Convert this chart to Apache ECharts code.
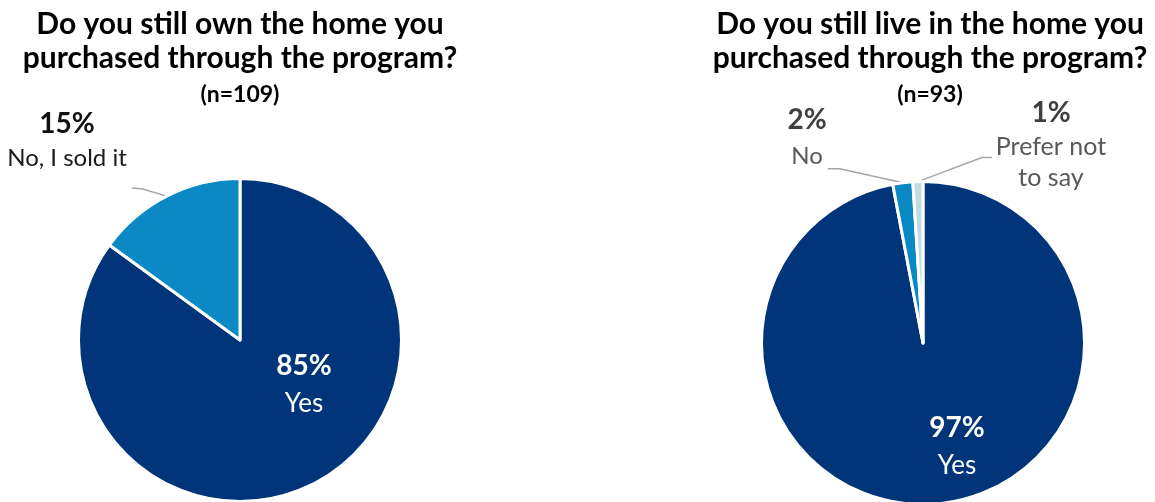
<!DOCTYPE html>
<html>
<head>
<meta charset="utf-8">
<script src="https://cdn.jsdelivr.net/npm/echarts@6/dist/echarts.min.js"></script>
<style>
html, body { margin: 0; padding: 0; background: #ffffff; }
#chart { width: 1155px; height: 502px; }
</style>
</head>
<body>
<div id="chart"></div>
<script>
// ---- data ----
const leftTitleLines = ['Do you still own the home you', 'purchased through the program?'];
const leftSample = '(n=109)';
const leftCategories = ['Yes', 'No, I sold it'];
const leftValues = [85, 15];

const rightTitleLines = ['Do you still live in the home you', 'purchased through the program?'];
const rightSample = '(n=93)';
const rightCategories = ['Yes', 'No', 'Prefer not\nto say'];
const rightValues = [97, 2, 1];

// ---- styling ----
const FONT = 'Lato, "Noto Sans", sans-serif';
const NAVY = '#00357A', MID = '#0A89C4', LIGHT = '#BFDCE2';
const leftColors = [NAVY, MID];
const rightColors = [NAVY, MID, LIGHT];

// label placement (text annotations only)
const leftSpots = [
  { x: 304, y: 385 },
  { x: 67, y: 141, line: [[-24, -7], [-35, -8]] }
];
const rightSpots = [
  { x: 957, y: 447 },
  { x: 807, y: 138, line: [[-63, -14], [-75, -14]] },
  { x: 1051, y: 144, line: [[64, -24], [74, -24]] }
];

function insideLabel() {
  return {
    show: true, position: 'inside',
    formatter: '{p|{c}%}\n{n|{b}}',
    rich: {
      p: { fontFamily: FONT, fontSize: 28, fontWeight: 'bold', color: '#ffffff', lineHeight: 38 },
      n: { fontFamily: FONT, fontSize: 26, color: '#ffffff', lineHeight: 38 }
    }
  };
}
function outsideLabel(pctColor, nameColor, pLH, nLH, nSize) {
  return {
    show: true, position: 'outside',
    formatter: '{p|{c}%}\n{n|{b}}',
    rich: {
      p: { fontFamily: FONT, fontSize: 28, fontWeight: 'bold', color: pctColor, lineHeight: pLH },
      n: { fontFamily: FONT, fontSize: nSize, color: nameColor, lineHeight: nLH }
    }
  };
}
const guide = { show: true, length: 10, length2: 10, smooth: false, lineStyle: { color: '#A6A6A6', width: 1.5 } };
const noGuide = { show: false };

function buildData(cats, vals, colors, labels, lines) {
  return cats.map((c, i) => ({
    name: c, value: vals[i],
    itemStyle: { color: colors[i] },
    label: labels[i],
    labelLine: lines[i]
  }));
}

function makeLayout(spots) {
  return function (params) {
    const s = spots[params.dataIndex];
    const out = { x: s.x, y: s.y, align: 'center', verticalAlign: 'middle' };
    if (s.line && params.labelLinePoints && params.labelLinePoints.length) {
      const p0 = params.labelLinePoints[0];
      out.labelLinePoints = [p0].concat(s.line.map(d => [p0[0] + d[0], p0[1] + d[1]]));
    }
    return out;
  };
}

function titleOf(lines, sample, cx) {
  return {
    left: cx, top: 7, padding: 0, textAlign: 'center',
    text: lines.map(l => '{a|' + l + '}').join('\n') + '\n{b|' + sample + '}',
    textStyle: {
      rich: {
        a: { fontFamily: FONT, fontSize: 30, fontWeight: 'bold', color: '#000000', lineHeight: 34 },
        b: { fontFamily: FONT, fontSize: 23, fontWeight: 'bold', color: '#000000', lineHeight: 40 }
      }
    }
  };
}

const chart = echarts.init(document.getElementById('chart'), null, { renderer: 'canvas' });
chart.setOption({
  backgroundColor: '#ffffff',
  animation: false,
  title: [titleOf(leftTitleLines, leftSample, 240), titleOf(rightTitleLines, rightSample, 930)],
  series: [
    {
      type: 'pie', center: [240, 340], radius: 161.5, startAngle: 90, clockwise: true,
      avoidLabelOverlap: false, silent: true,
      itemStyle: { borderColor: '#ffffff', borderWidth: 3 },
      data: buildData(leftCategories, leftValues, leftColors,
        [insideLabel(), outsideLabel('#111111', '#1a1a1a', 35, 35, 24)],
        [noGuide, guide]),
      labelLayout: makeLayout(leftSpots)
    },
    {
      type: 'pie', center: [923, 343], radius: 161.5, startAngle: 90, clockwise: true,
      avoidLabelOverlap: false, silent: true,
      itemStyle: { borderColor: '#ffffff', borderWidth: 3 },
      data: buildData(rightCategories, rightValues, rightColors,
        [insideLabel(), outsideLabel('#404040', '#595959', 36, 36, 24), outsideLabel('#404040', '#595959', 36, 31, 25)],
        [noGuide, guide, guide]),
      labelLayout: makeLayout(rightSpots)
    }
  ]
});
</script>
</body>
</html>
